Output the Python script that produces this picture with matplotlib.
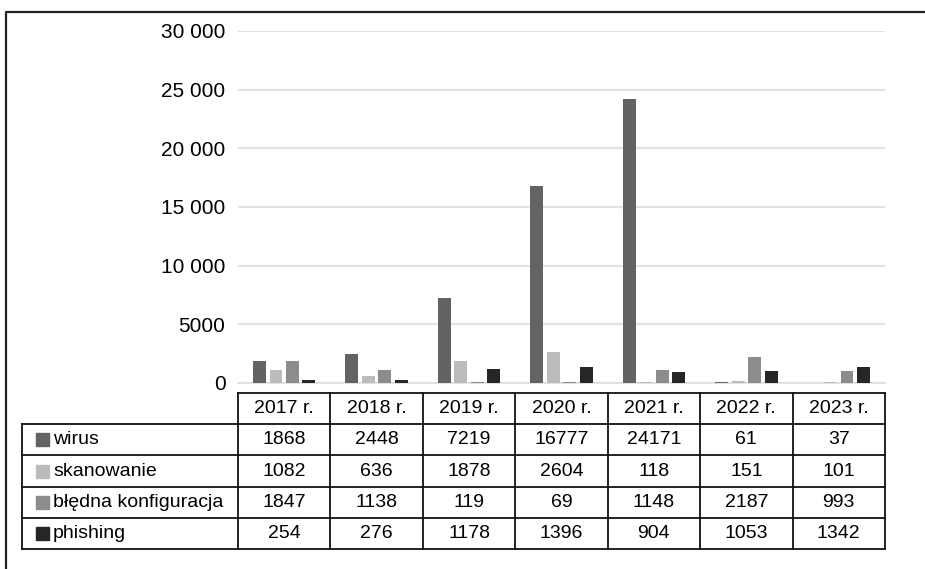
import numpy as np
import matplotlib.pyplot as plt
from matplotlib.patches import Rectangle

years = ["2017 r.", "2018 r.", "2019 r.", "2020 r.", "2021 r.", "2022 r.", "2023 r."]
series = ["wirus", "skanowanie", "błędna konfiguracja", "phishing"]
wirus = [1868, 2448, 7219, 16777, 24171, 61, 37]
skanowanie = [1082, 636, 1878, 2604, 118, 151, 101]
bledna = [1847, 1138, 119, 69, 1148, 2187, 993]
phishing = [254, 276, 1178, 1396, 904, 1053, 1342]
colors = ["#636363", "#bcbcbc", "#8c8c8c", "#262626"]
yticks = [0, 5000, 10000, 15000, 20000, 25000, 30000]
ytick_labels = ["0", "5000", "10 000", "15 000", "20 000", "25 000", "30 000"]

plt.rcParams['font.family'] = ['Liberation Sans', 'DejaVu Sans']
fs = 14

W, H = 925, 569
fig = plt.figure(figsize=(W / 100, H / 100), dpi=100)

def px_axes(x0, y0, x1, y1):
	return fig.add_axes([x0 / W, 1 - y1 / H, (x1 - x0) / W, (y1 - y0) / H])

# background frame and table in pixel coordinates
bg = fig.add_axes([0, 0, 1, 1])
bg.set_xlim(0, W)
bg.set_ylim(H, 0)
bg.axis("off")
bg.plot([6, 6, W], [569, 12, 12], color="#222222", lw=1.6)

# bar chart
ax = px_axes(238, 31, 885, 383)
x = np.arange(len(years))
data = [wirus, skanowanie, bledna, phishing]
step = 0.178
bw = 0.14
for i, (vals, c) in enumerate(zip(data, colors)):
	ax.bar(x + (i - 1.5) * step, vals, width=bw, color=c, zorder=3)
ax.set_xlim(-0.5, len(years) - 0.5)
ax.set_ylim(0, 30000)
ax.set_yticks(yticks)
ax.set_yticklabels(ytick_labels, fontsize=15)
ax.tick_params(axis="y", length=0, pad=9)
ax.set_xticks([])
ax.grid(axis="y", color="#e2e2e2", lw=1.5, zorder=0)
for s in ["top", "right", "left"]:
	ax.spines[s].set_visible(False)
ax.spines["bottom"].set_color("#dddddd")
ax.spines["bottom"].set_linewidth(1.2)

# data table
left, xlab, right = 22, 238, 885
colw = (right - xlab) / len(years)
top = 393
rowh = 31.2
lc = "#111111"
lw = 1.3
bg.plot([xlab, right], [top, top], color=lc, lw=lw)
for j in range(len(years) + 1):
	bg.plot([xlab + j * colw] * 2, [top, top + 5 * rowh], color=lc, lw=lw)
for j, yr in enumerate(years):
	bg.text(xlab + (j + 0.5) * colw, top + rowh / 2, yr, ha="center", va="center", fontsize=fs)
for r in range(1, 6):
	bg.plot([left, right], [top + r * rowh] * 2, color=lc, lw=lw)
bg.plot([left, left], [top + rowh, top + 5 * rowh], color=lc, lw=lw)
for i, (name, vals, c) in enumerate(zip(series, data, colors)):
	yc = top + (i + 1.5) * rowh
	bg.add_patch(Rectangle((36, yc - 6.5), 13, 13, color=c))
	bg.text(53, yc, name, ha="left", va="center", fontsize=fs)
	for j, v in enumerate(vals):
		bg.text(xlab + (j + 0.5) * colw, yc, str(v), ha="center", va="center", fontsize=fs)

fig.savefig("out.png", dpi=100)
